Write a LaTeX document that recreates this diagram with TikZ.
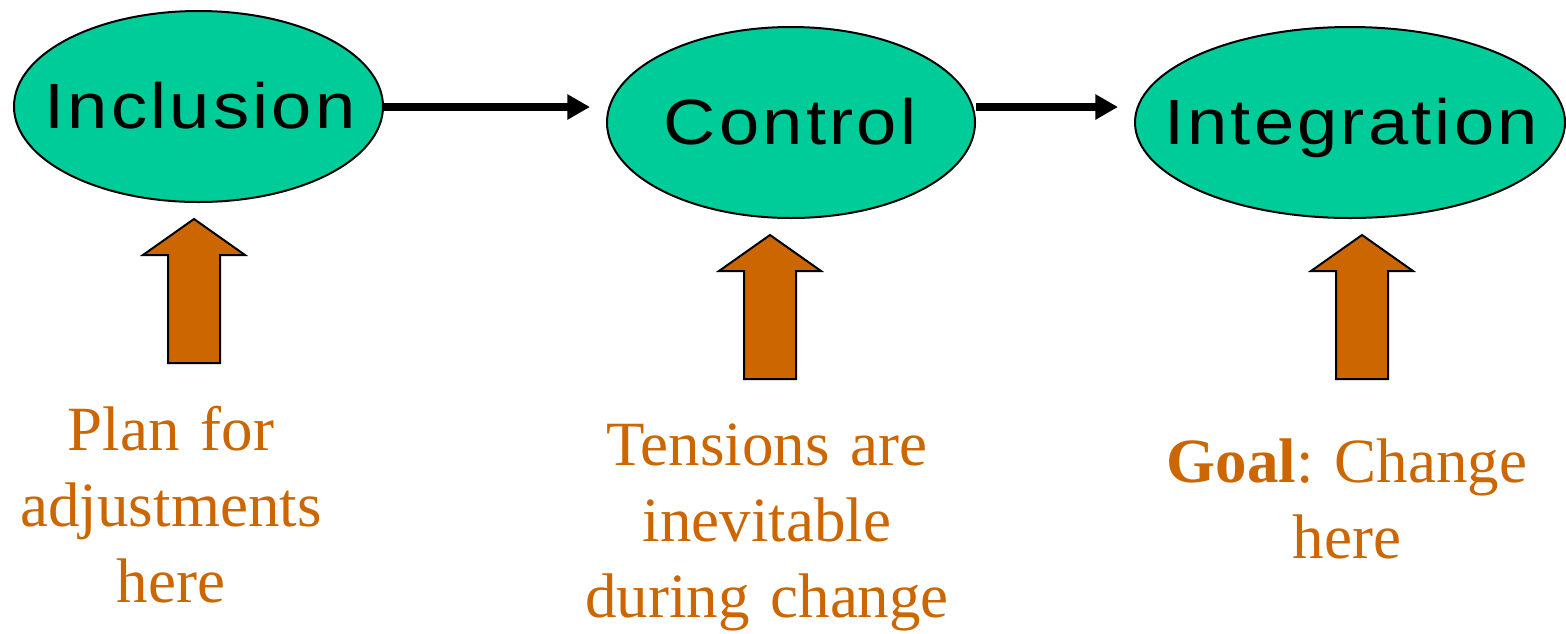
\documentclass[tikz,border=0pt]{standalone}
\usepackage{fontspec}
\setmainfont{Liberation Serif}
\newfontfamily\stagefont[FakeStretch=1.13, LetterSpace=5]{Liberation Sans}
\usetikzlibrary{shapes.geometric,arrows.meta}
\definecolor{stagefill}{HTML}{00CC99}
\definecolor{orng}{HTML}{CC6600}
\frenchspacing
\begin{document}
\begin{tikzpicture}[x=0.75pt,y=-0.75pt,
  stage/.style={ellipse, draw=black, line width=1.5pt, fill=stagefill, inner sep=0pt},
  stagetext/.style={inner sep=0pt, font=\stagefont\fontsize{48}{58}\selectfont, text height=34.4pt, text depth=0pt},
  conn/.style={line width=6pt, -{Triangle[length=17pt,width=18pt]}},
  blockarrow/.style={draw=black, line width=1.5pt, fill=orng, line join=miter},
  note/.style={text=orng, font=\fontsize{47.25}{57}\selectfont, align=center, text width=500pt, anchor=base, inner sep=0pt},
  uparrow/.pic={\path[blockarrow] (0,0) -- (51,36) -- (26,36) -- (26,144) -- (-26,144) -- (-26,36) -- (-51,36) -- cycle;}
]
\useasboundingbox (0,0) rectangle (1566,633);

% stages
\node[stage, minimum width=276.75pt, minimum height=143.25pt] (Inclusion) at (198.5,106.5) {};
\node[stage, minimum width=276pt, minimum height=143.25pt] (Control) at (791,122.5) {};
\node[stage, minimum width=322.5pt, minimum height=143.25pt] (Integration) at (1350,122.5) {};
\node[stagetext] (tInclusion) at (200,106) {Inclusion};
\node[stagetext] (tControl) at (790,121.5) {Control};
\node[stagetext] (tIntegration) at (1351,122) {Integration};

% connectors
\coordinate (t1) at (590,107);
\coordinate (t2) at (1118,107);
\draw[conn] (Inclusion.east |- t1) -- (t1);
\draw[conn] (Control.east |- t2) -- (t2);

% block arrows
\pic (a1) at (194,219) {uparrow};
\pic (a2) at (770,235) {uparrow};
\pic (a3) at (1362,235) {uparrow};

% notes
\node[note] (n1) at (171,450) {Plan for\\adjustments\\here};
\node[note] (n2) at (767,465) {Tensions are\\inevitable\\during change};
\node[note] (n3) at (1347,482) {\textbf{Goal}: Change\\here};
\end{tikzpicture}
\end{document}
